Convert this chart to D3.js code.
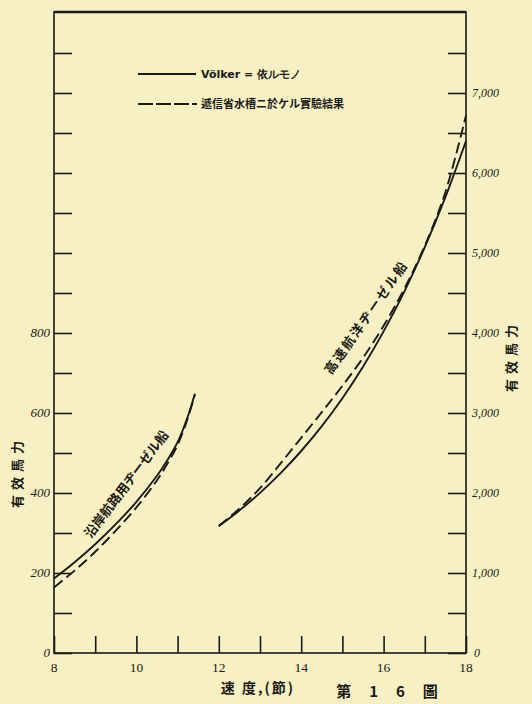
<!DOCTYPE html>
<html><head><meta charset="utf-8">
<script src="https://cdn.jsdelivr.net/npm/d3@7"></script>
<style>
html,body{margin:0;padding:0;background:#f7f0c4;}
svg{display:block;}
</style></head>
<body>
<svg id="c" width="532" height="704"></svg>
<script>
// ---- data ----
const xTicks = [8,9,10,11,12,13,14,15,16,17,18];
const xTickLabels = [8,10,12,14,16,18];
const leftTicks = [0,100,200,300,400,500,600,700,800,900,1000,1100,1200,1300,1400,1500];
const leftTickLabels = [0,200,400,600,800];
const rightTicks = [0,500,1000,1500,2000,2500,3000,3500,4000,4500,5000,5500,6000,6500,7000,7500];
const rightTickLabels = ["0","1,000","2,000","3,000","4,000","5,000","6,000","7,000"];
const rightTickLabelValues = [0,1000,2000,3000,4000,5000,6000,7000];

// small coastal diesel ship (left scale)
const smallSpeed  = [8.0, 8.5, 9.0, 9.5, 10.0, 10.5, 10.75, 11.0, 11.25, 11.42];
const smallVolker = [186, 227, 272, 322, 378, 443, 482, 527, 592, 648];
const smallTank   = [164, 206, 253, 306, 364, 432, 473, 520, 588, 646];

// fast ocean-going diesel ship (right scale)
const bigSpeed  = [12.0, 12.5, 13.0, 13.5, 14.0, 14.5, 15.0, 15.5, 16.0, 16.5, 17.0, 17.5, 18.0];
const bigVolker = [1586, 1782, 2001, 2248, 2525, 2836, 3185, 3578, 4020, 4515, 5073, 5698, 6400];
const bigTank   = [1590, 1805, 2060, 2370, 2690, 3010, 3340, 3690, 4090, 4550, 5090, 5760, 6720];

const legendLabels = ["Völker = 依ルモノ", "遞信省水槽ニ於ケル實驗結果"];

// ---- drawing ----
const svg = d3.select("#c");
const ink = "#1b1a14";
const L = 54, R = 466, T = 12, B = 653;
const x = d3.scaleLinear().domain([8,18]).range([L,R]);
const yL = d3.scaleLinear().domain([0,1500]).range([B,53]);
const yR = d3.scaleLinear().domain([0,7500]).range([B,53]);

// frame
svg.append("rect").attr("x",L).attr("y",T).attr("width",R-L).attr("height",B-T)
  .attr("fill","none").attr("stroke",ink).attr("stroke-width",1.6);
svg.append("line").attr("x1",L).attr("x2",R).attr("y1",T).attr("y2",T).attr("stroke",ink).attr("stroke-width",2.4);

const gl = svg.append("g").attr("transform",`translate(${L},0)`)
  .call(d3.axisRight(yL).tickValues(leftTicks).tickSize(18).tickFormat(""));
const gr = svg.append("g").attr("transform",`translate(${R},0)`)
  .call(d3.axisLeft(yR).tickValues(rightTicks).tickSize(18).tickFormat(""));
const gb = svg.append("g").attr("transform",`translate(0,${B})`)
  .call(d3.axisTop(x).tickValues(xTicks).tickSize(17).tickFormat(""));
[gl,gr,gb].forEach(g=>{
  g.select(".domain").remove();
  g.selectAll("line").attr("stroke",ink).attr("stroke-width",1.6);
});

const numFont = "'Liberation Serif', serif";
svg.append("g").selectAll("text").data(leftTickLabels).join("text")
  .attr("x",50).attr("y",d=>yL(d)+4).attr("text-anchor","end")
  .attr("font-family",numFont).attr("font-style","italic").attr("font-size",13).attr("fill",ink)
  .text(d=>d);
svg.append("g").selectAll("text").data(rightTickLabelValues).join("text")
  .attr("x",d=>d===0?474:472).attr("y",d=>yR(d)+4).attr("text-anchor","start")
  .attr("font-family",numFont).attr("font-style","italic").attr("font-size",12).attr("fill",ink)
  .text((d,i)=>rightTickLabels[i]);
svg.append("g").selectAll("text").data(xTickLabels).join("text")
  .attr("x",d=>x(d)).attr("y",672).attr("text-anchor","middle")
  .attr("font-family",numFont).attr("font-size",13.5).attr("fill",ink)
  .text(d=>d);

const cjk = "'Noto Sans CJK JP', sans-serif";
svg.append("text").attr("x",258).attr("y",693).attr("text-anchor","middle")
  .attr("font-family",cjk).attr("font-weight","bold").attr("font-size",14).attr("fill",ink)
  .attr("letter-spacing","2")
  .text("速 度,(節)");
svg.append("text").attr("x",396).attr("y",697).attr("text-anchor","middle")
  .attr("font-family",cjk).attr("font-weight","bold").attr("font-size",15).attr("fill",ink)
  .attr("letter-spacing","18")
  .text("第16圖");
svg.append("text").attr("transform","translate(22,472) rotate(-90)").attr("text-anchor","middle")
  .attr("font-family",cjk).attr("font-weight","bold").attr("font-size",13).attr("fill",ink)
  .attr("letter-spacing","5").text("有效馬力");
svg.append("text").attr("transform","translate(516,356) rotate(-90)").attr("text-anchor","middle")
  .attr("font-family",cjk).attr("font-weight","bold").attr("font-size",13).attr("fill",ink)
  .attr("letter-spacing","5").text("有效馬力");

// curves
const curve = d3.curveCatmullRom.alpha(0.5);
function drawCurve(xs, ys, yScale, dashed){
  const pts = xs.map((v,i)=>[x(v), yScale(ys[i])]);
  svg.append("path").attr("d", d3.line().curve(curve)(pts))
    .attr("fill","none").attr("stroke",ink).attr("stroke-width",1.9)
    .attr("stroke-dasharray", dashed ? "11,5" : null);
}
drawCurve(smallSpeed, smallVolker, yL, false);
drawCurve(smallSpeed, smallTank, yL, true);
drawCurve(bigSpeed, bigVolker, yR, false);
drawCurve(bigSpeed, bigTank, yR, true);

// curve labels
svg.append("text").attr("transform","translate(130,487) rotate(-53)").attr("text-anchor","middle")
  .attr("font-family",cjk).attr("font-weight","bold").attr("font-size",13).attr("fill",ink)
  .text("沿岸航路用ヂーゼル船");
svg.append("text").attr("transform","translate(370,320) rotate(-55)").attr("text-anchor","middle")
  .attr("font-family",cjk).attr("font-weight","bold").attr("font-size",13).attr("fill",ink)
  .attr("letter-spacing","2")
  .text("高速航洋ヂーゼル船");

// legend
const legY = [74,104];
svg.append("line").attr("x1",138).attr("x2",196).attr("y1",legY[0]).attr("y2",legY[0])
  .attr("stroke",ink).attr("stroke-width",1.9);
svg.append("line").attr("x1",138).attr("x2",197).attr("y1",legY[1]).attr("y2",legY[1])
  .attr("stroke",ink).attr("stroke-width",1.9).attr("stroke-dasharray","15,3");
svg.append("g").selectAll("text").data(legendLabels).join("text")
  .attr("x",201).attr("y",(d,i)=>legY[i]+4)
  .attr("font-family",(d,i)=>i===0?"'DejaVu Sans', sans-serif":cjk)
  .attr("font-weight","bold").attr("font-size",11).attr("fill",ink)
  .text(d=>d);
</script>
</body></html>
